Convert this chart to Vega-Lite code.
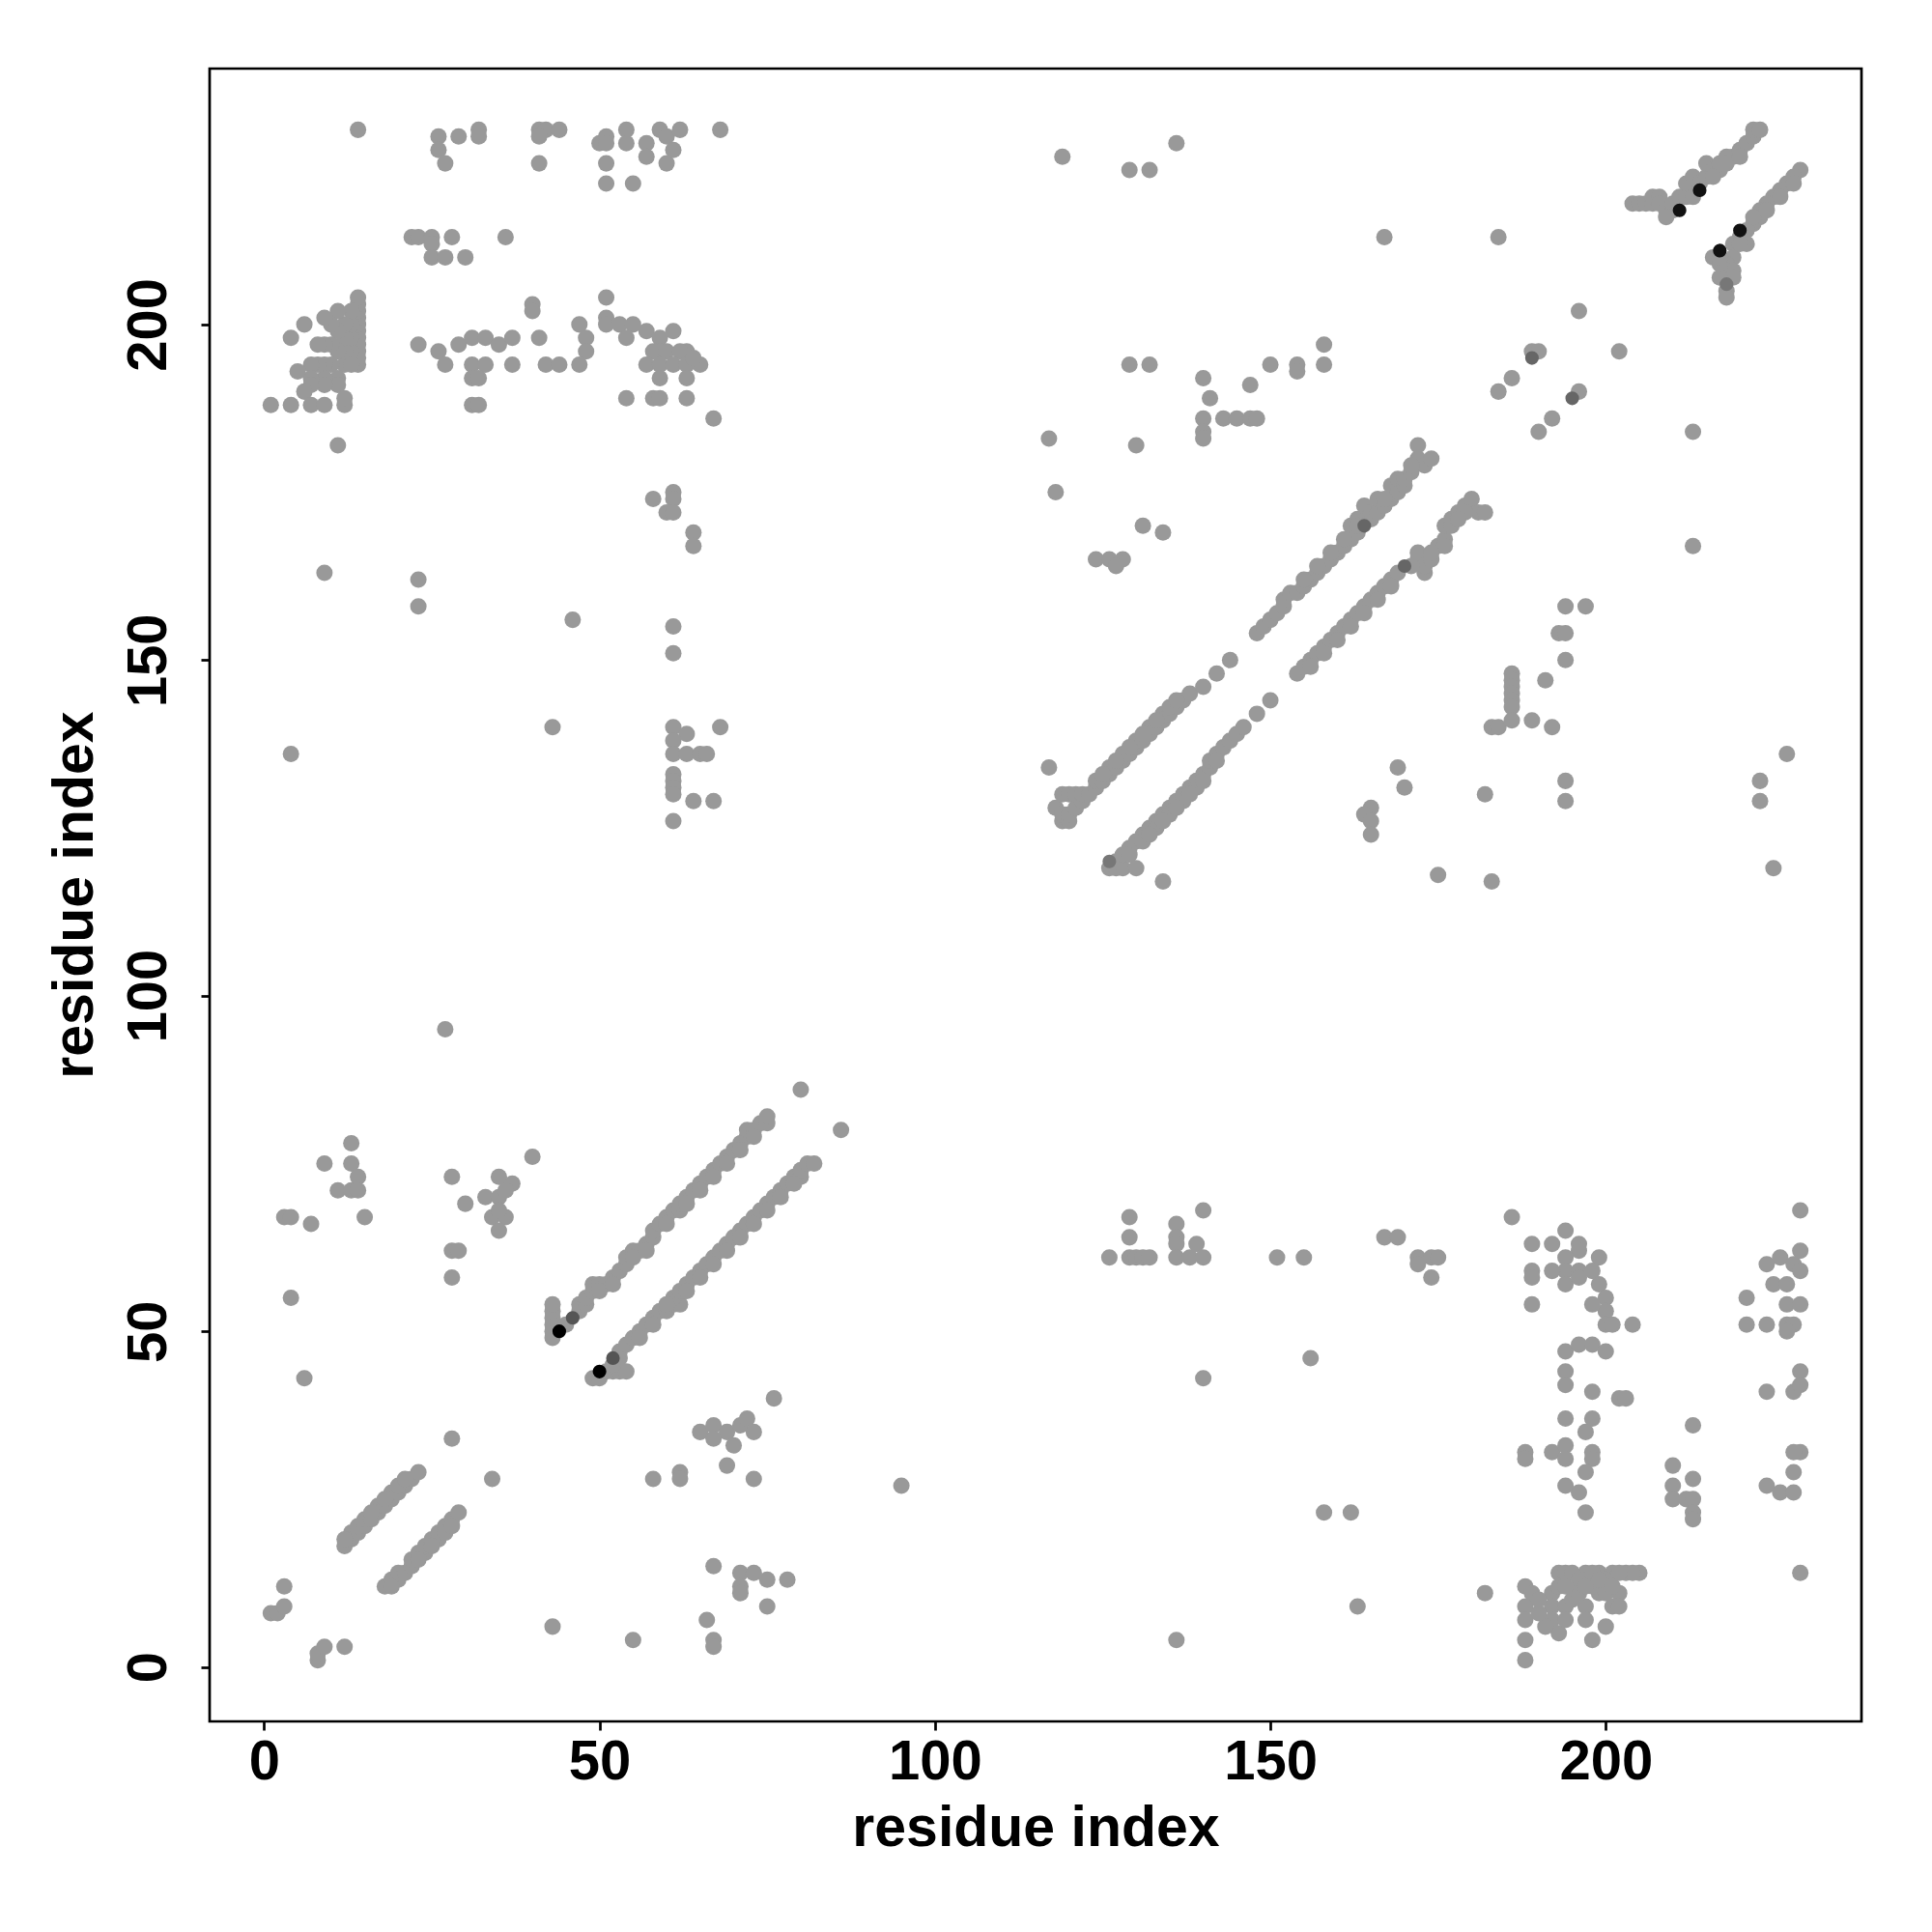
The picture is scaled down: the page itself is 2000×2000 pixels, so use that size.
{
"$schema":"https://vega.github.io/schema/vega-lite/v6.json",
"autosize":{"type":"none"},
"width":1710,"height":1711,
"padding":{"left":217,"top":71,"right":73,"bottom":218},
"background":"white",
"config":{"view":{"stroke":"black","strokeWidth":2.7},
"axis":{"domain":false,"grid":false,"tickColor":"black","tickWidth":2.7,"tickSize":9,"labelFont":"Liberation Sans","labelFontWeight":"bold","labelFontSize":58,"labelColor":"black","titleFont":"Liberation Sans","titleFontWeight":"bold","titleFontSize":59,"titleColor":"black","labelFlush":false,"labelOverlap":false}},
"datasets":{
"dark":[{"x":44,"y":50,"c":"#000000"},{"x":50,"y":44,"c":"#000000"},{"x":46,"y":52,"c":"#555555"},{"x":52,"y":46,"c":"#555555"},{"x":211,"y":217,"c":"#111111"},{"x":214,"y":220,"c":"#111111"},{"x":217,"y":211,"c":"#111111"},{"x":220,"y":214,"c":"#111111"},{"x":189,"y":195,"c":"#666666"},{"x":195,"y":189,"c":"#666666"},{"x":164,"y":170,"c":"#666666"},{"x":170,"y":164,"c":"#666666"},{"x":126,"y":120,"c":"#777777"},{"x":218,"y":206,"c":"#777777"}],
"gray":[
{"x":14,"y":229},{"x":26,"y":228},{"x":26,"y":226},{"x":27,"y":224},{"x":29,"y":228},{"x":32,"y":229},{"x":32,"y":228},{"x":41,"y":229},{"x":42,"y":229},{"x":41,"y":228},{"x":44,"y":229},{"x":41,"y":224},{"x":50,"y":227},{"x":51,"y":228},{"x":51,"y":227},{"x":51,"y":224},{"x":51,"y":221},{"x":55,"y":221},{"x":54,"y":229},{"x":54,"y":227},{"x":57,"y":227},{"x":57,"y":225},{"x":59,"y":229},{"x":60,"y":228},{"x":60,"y":224},{"x":61,"y":226},{"x":62,"y":229},{"x":68,"y":229},
{"x":22,"y":213},{"x":23,"y":213},{"x":25,"y":213},{"x":28,"y":213},{"x":25,"y":212},{"x":25,"y":210},{"x":27,"y":210},{"x":30,"y":210},{"x":36,"y":213},
{"x":14,"y":194},{"x":14,"y":195},{"x":14,"y":196},{"x":14,"y":197},{"x":14,"y":198},{"x":14,"y":199},{"x":14,"y":200},{"x":14,"y":201},{"x":14,"y":202},{"x":14,"y":203},{"x":14,"y":204},{"x":13,"y":196},{"x":13,"y":198},{"x":13,"y":200},{"x":13,"y":202},{"x":12,"y":194},{"x":12,"y":196},{"x":12,"y":198},{"x":12,"y":200},{"x":11,"y":202},{"x":11,"y":199},{"x":11,"y":196},{"x":11,"y":192},{"x":11,"y":191},{"x":10,"y":194},{"x":10,"y":197},{"x":10,"y":200},{"x":9,"y":201},{"x":9,"y":197},{"x":9,"y":194},{"x":9,"y":192},{"x":9,"y":191},{"x":8,"y":197},{"x":8,"y":194},{"x":7,"y":194},{"x":7,"y":192},{"x":7,"y":191},{"x":6,"y":200},{"x":6,"y":190},{"x":5,"y":193},{"x":4,"y":198},{"x":1,"y":188},{"x":4,"y":188},{"x":7,"y":188},{"x":9,"y":188},{"x":12,"y":188},{"x":12,"y":189},{"x":11,"y":182},{"x":13,"y":194},
{"x":23,"y":197},{"x":26,"y":196},{"x":27,"y":194},{"x":29,"y":197},{"x":31,"y":198},{"x":33,"y":198},{"x":35,"y":197},{"x":37,"y":198},{"x":31,"y":194},{"x":33,"y":194},{"x":31,"y":192},{"x":32,"y":192},{"x":31,"y":188},{"x":32,"y":188},{"x":37,"y":194},{"x":40,"y":203},{"x":40,"y":202},{"x":41,"y":198},{"x":42,"y":194},{"x":44,"y":194},{"x":47,"y":200},{"x":48,"y":198},{"x":48,"y":196},{"x":47,"y":194},{"x":51,"y":204},{"x":51,"y":201},{"x":51,"y":200},{"x":53,"y":200},{"x":55,"y":200},{"x":54,"y":198},{"x":57,"y":199},{"x":61,"y":199},{"x":59,"y":198},{"x":59,"y":196},{"x":58,"y":196},{"x":60,"y":196},{"x":63,"y":196},{"x":62,"y":196},{"x":57,"y":194},{"x":59,"y":194},{"x":61,"y":194},{"x":63,"y":194},{"x":65,"y":194},{"x":59,"y":192},{"x":63,"y":192},{"x":54,"y":189},{"x":58,"y":189},{"x":59,"y":189},{"x":63,"y":189},{"x":67,"y":186},{"x":64,"y":195},
{"x":58,"y":174},{"x":61,"y":175},{"x":61,"y":174},{"x":60,"y":172},{"x":61,"y":172},{"x":64,"y":169},{"x":64,"y":167},{"x":9,"y":163},
{"x":23,"y":162},{"x":23,"y":158},{"x":46,"y":156},{"x":61,"y":155},{"x":61,"y":151},{"x":4,"y":136},{"x":43,"y":140},{"x":61,"y":140},{"x":63,"y":139},{"x":61,"y":138},{"x":61,"y":136},{"x":63,"y":136},{"x":65,"y":136},{"x":66,"y":136},{"x":68,"y":140},{"x":61,"y":133},{"x":61,"y":132},{"x":61,"y":131},{"x":61,"y":130},{"x":64,"y":129},{"x":67,"y":129},{"x":61,"y":126},
{"x":13,"y":78},{"x":9,"y":75},{"x":13,"y":75},{"x":14,"y":73},{"x":11,"y":71},{"x":13,"y":71},{"x":14,"y":71},{"x":3,"y":67},{"x":4,"y":67},{"x":7,"y":66},{"x":15,"y":67},{"x":4,"y":55},{"x":6,"y":43},{"x":28,"y":73},{"x":30,"y":69},{"x":35,"y":73},{"x":37,"y":72},{"x":33,"y":70},{"x":35,"y":70},{"x":36,"y":71},{"x":34,"y":67},{"x":36,"y":67},{"x":35,"y":65},{"x":35,"y":68},{"x":40,"y":76},{"x":28,"y":62},{"x":29,"y":62},{"x":28,"y":58},{"x":28,"y":34},{"x":27,"y":95},
{"x":1,"y":8},{"x":2,"y":8},{"x":3,"y":9},{"x":3,"y":12},
{"x":12,"y":18},{"x":13,"y":19},{"x":13,"y":20},{"x":14,"y":20},{"x":14,"y":21},{"x":15,"y":21},{"x":15,"y":22},{"x":16,"y":22},{"x":17,"y":23},{"x":17,"y":24},{"x":18,"y":24},{"x":19,"y":25},{"x":19,"y":26},{"x":20,"y":26},{"x":21,"y":27},{"x":22,"y":28},{"x":23,"y":29},{"x":12,"y":19},{"x":16,"y":23},{"x":18,"y":25},{"x":20,"y":27},{"x":21,"y":28},
{"x":43,"y":49},{"x":43,"y":50},{"x":43,"y":51},{"x":43,"y":52},{"x":43,"y":53},{"x":43,"y":54},{"x":45,"y":51},{"x":47,"y":53},{"x":47,"y":54},{"x":48,"y":54},{"x":48,"y":55},{"x":49,"y":56},{"x":49,"y":57},{"x":50,"y":57},{"x":51,"y":57},{"x":52,"y":58},{"x":53,"y":59},{"x":54,"y":60},{"x":54,"y":61},{"x":55,"y":62},{"x":56,"y":62},{"x":57,"y":63},{"x":58,"y":64},{"x":58,"y":65},{"x":59,"y":66},{"x":60,"y":67},{"x":61,"y":68},{"x":62,"y":68},{"x":62,"y":69},{"x":63,"y":70},{"x":64,"y":71},{"x":65,"y":72},{"x":66,"y":73},{"x":67,"y":74},{"x":68,"y":75},{"x":69,"y":76},{"x":70,"y":77},{"x":71,"y":78},{"x":72,"y":79},{"x":72,"y":80},{"x":73,"y":80},{"x":74,"y":81},{"x":75,"y":81},{"x":75,"y":82},{"x":80,"y":86},{"x":50,"y":56},{"x":52,"y":57},{"x":55,"y":61},{"x":57,"y":62},{"x":60,"y":66},{"x":63,"y":69},{"x":65,"y":71},{"x":67,"y":73},{"x":69,"y":75},{"x":71,"y":77},{"x":73,"y":79},
{"x":118,"y":128},{"x":119,"y":126},{"x":119,"y":127},{"x":119,"y":130},{"x":120,"y":126},{"x":120,"y":127},{"x":120,"y":130},{"x":121,"y":128},{"x":121,"y":130},{"x":122,"y":129},{"x":122,"y":130},{"x":123,"y":130},{"x":124,"y":131},{"x":124,"y":132},{"x":125,"y":132},{"x":126,"y":133},{"x":126,"y":134},{"x":127,"y":134},{"x":128,"y":135},{"x":128,"y":136},{"x":129,"y":136},{"x":130,"y":137},{"x":130,"y":138},{"x":131,"y":138},{"x":132,"y":139},{"x":132,"y":140},{"x":133,"y":140},{"x":134,"y":141},{"x":134,"y":142},{"x":135,"y":142},{"x":136,"y":143},{"x":137,"y":144},{"x":138,"y":145},{"x":140,"y":146},{"x":142,"y":148},{"x":144,"y":150},{"x":148,"y":154},{"x":149,"y":155},{"x":150,"y":156},{"x":151,"y":157},{"x":152,"y":158},{"x":152,"y":159},{"x":153,"y":160},{"x":154,"y":160},{"x":155,"y":161},{"x":156,"y":162},{"x":157,"y":163},{"x":158,"y":164},{"x":159,"y":165},{"x":160,"y":166},{"x":161,"y":167},{"x":162,"y":168},{"x":162,"y":170},{"x":163,"y":169},{"x":163,"y":171},{"x":164,"y":173},{"x":165,"y":171},{"x":165,"y":172},{"x":166,"y":172},{"x":166,"y":174},{"x":167,"y":173},{"x":168,"y":174},{"x":168,"y":176},{"x":169,"y":175},{"x":169,"y":177},{"x":170,"y":176},{"x":170,"y":177},{"x":171,"y":178},{"x":172,"y":180},{"x":172,"y":182},{"x":173,"y":179},{"x":174,"y":180},
{"x":125,"y":133},{"x":127,"y":135},{"x":129,"y":137},{"x":131,"y":139},{"x":133,"y":141},{"x":135,"y":143},{"x":136,"y":144},{"x":155,"y":162},{"x":157,"y":164},{"x":159,"y":166},{"x":161,"y":168},{"x":163,"y":170},{"x":167,"y":174},{"x":171,"y":179},
{"x":119,"y":225},{"x":129,"y":223},{"x":132,"y":223},{"x":136,"y":227},{"x":167,"y":213},{"x":184,"y":213},{"x":129,"y":194},{"x":132,"y":194},{"x":140,"y":192},{"x":141,"y":189},{"x":140,"y":186},{"x":143,"y":186},{"x":145,"y":186},{"x":147,"y":186},{"x":148,"y":186},{"x":140,"y":184},{"x":140,"y":183},{"x":147,"y":191},{"x":150,"y":194},{"x":154,"y":194},{"x":154,"y":193},{"x":158,"y":197},{"x":158,"y":194},{"x":117,"y":183},{"x":130,"y":182},{"x":118,"y":175},{"x":131,"y":170},{"x":134,"y":169},{"x":124,"y":165},{"x":126,"y":165},{"x":128,"y":165},{"x":127,"y":164},{"x":117,"y":134},
{"x":196,"y":202},{"x":189,"y":196},{"x":190,"y":196},{"x":186,"y":192},{"x":184,"y":190},
{"x":204,"y":218},{"x":205,"y":218},{"x":206,"y":218},{"x":207,"y":218},{"x":207,"y":219},{"x":208,"y":219},{"x":208,"y":218},{"x":209,"y":217},{"x":210,"y":217},{"x":210,"y":218},{"x":211,"y":219},{"x":212,"y":219},{"x":212,"y":221},{"x":213,"y":220},{"x":213,"y":222},{"x":214,"y":221},{"x":215,"y":222},{"x":215,"y":224},{"x":216,"y":223},{"x":217,"y":223},{"x":217,"y":224},{"x":218,"y":225},{"x":219,"y":225},{"x":220,"y":226},{"x":221,"y":227},{"x":222,"y":228},{"x":222,"y":229},{"x":223,"y":229},{"x":216,"y":222},{"x":218,"y":224},{"x":220,"y":225},{"x":209,"y":216},{"x":213,"y":219},
{"x":8,"y":1},{"x":8,"y":2},{"x":9,"y":3},{"x":12,"y":3},
{"x":18,"y":12},{"x":19,"y":13},{"x":20,"y":13},{"x":20,"y":14},{"x":21,"y":14},{"x":22,"y":15},{"x":22,"y":16},{"x":23,"y":17},{"x":24,"y":17},{"x":24,"y":18},{"x":25,"y":19},{"x":26,"y":19},{"x":26,"y":20},{"x":27,"y":21},{"x":28,"y":22},{"x":29,"y":23},{"x":19,"y":12},{"x":23,"y":16},{"x":25,"y":18},{"x":27,"y":20},{"x":28,"y":21},
{"x":34,"y":28},
{"x":49,"y":43},{"x":50,"y":43},{"x":51,"y":44},{"x":52,"y":44},{"x":53,"y":44},{"x":54,"y":44},{"x":52,"y":45},{"x":53,"y":46},{"x":53,"y":47},{"x":54,"y":48},{"x":55,"y":49},{"x":56,"y":50},{"x":57,"y":51},{"x":58,"y":52},{"x":59,"y":53},{"x":60,"y":53},{"x":61,"y":54},{"x":62,"y":54},{"x":61,"y":55},{"x":62,"y":56},{"x":63,"y":57},{"x":64,"y":58},{"x":65,"y":59},{"x":66,"y":60},{"x":67,"y":61},{"x":68,"y":62},{"x":69,"y":63},{"x":70,"y":64},{"x":71,"y":65},{"x":72,"y":66},{"x":73,"y":67},{"x":74,"y":68},{"x":75,"y":69},{"x":76,"y":70},{"x":77,"y":71},{"x":78,"y":72},{"x":79,"y":73},{"x":80,"y":73},{"x":80,"y":74},{"x":81,"y":75},{"x":82,"y":75},{"x":86,"y":80},{"x":56,"y":49},{"x":58,"y":51},{"x":60,"y":54},{"x":63,"y":56},{"x":65,"y":58},{"x":67,"y":60},{"x":69,"y":62},{"x":71,"y":64},{"x":73,"y":66},{"x":75,"y":68},{"x":77,"y":70},{"x":79,"y":72},
{"x":43,"y":6},{"x":55,"y":4},{"x":67,"y":15},{"x":71,"y":14},{"x":73,"y":14},{"x":75,"y":13},{"x":78,"y":13},{"x":71,"y":12},{"x":71,"y":11},{"x":75,"y":9},{"x":66,"y":7},{"x":67,"y":4},{"x":67,"y":3},{"x":58,"y":28},{"x":62,"y":29},{"x":62,"y":28},{"x":69,"y":30},{"x":73,"y":28},{"x":65,"y":35},{"x":67,"y":36},{"x":69,"y":35},{"x":71,"y":36},{"x":72,"y":37},{"x":73,"y":35},{"x":70,"y":33},{"x":67,"y":34},{"x":76,"y":40},{"x":95,"y":27},
{"x":129,"y":67},{"x":129,"y":64},{"x":126,"y":61},{"x":129,"y":61},{"x":130,"y":61},{"x":131,"y":61},{"x":132,"y":61},{"x":136,"y":66},{"x":140,"y":68},{"x":136,"y":64},{"x":136,"y":63},{"x":139,"y":63},{"x":136,"y":61},{"x":138,"y":61},{"x":140,"y":61},{"x":151,"y":61},{"x":155,"y":61},{"x":167,"y":64},{"x":169,"y":64},{"x":172,"y":61},{"x":174,"y":61},{"x":175,"y":61},{"x":172,"y":60},{"x":174,"y":58},{"x":140,"y":43},{"x":156,"y":46},{"x":158,"y":23},{"x":162,"y":23},{"x":163,"y":9},{"x":136,"y":4},
{"x":229,"y":68},{"x":229,"y":62},{"x":224,"y":60},{"x":226,"y":61},{"x":228,"y":60},{"x":229,"y":59},{"x":225,"y":57},{"x":227,"y":57},{"x":221,"y":55},{"x":227,"y":54},{"x":229,"y":54},{"x":221,"y":51},{"x":224,"y":51},{"x":227,"y":51},{"x":228,"y":51},{"x":227,"y":50},{"x":229,"y":44},{"x":224,"y":41},{"x":228,"y":41},{"x":229,"y":42},{"x":229,"y":32},{"x":228,"y":32},{"x":228,"y":29},{"x":224,"y":27},{"x":226,"y":26},{"x":228,"y":26},{"x":229,"y":14},
{"x":213,"y":36},{"x":210,"y":30},{"x":210,"y":27},{"x":213,"y":28},{"x":210,"y":25},{"x":212,"y":25},{"x":213,"y":25},{"x":213,"y":23},{"x":213,"y":22},
{"x":186,"y":67},{"x":189,"y":63},{"x":192,"y":63},{"x":194,"y":65},{"x":196,"y":63},{"x":196,"y":62},{"x":194,"y":61},{"x":194,"y":59},{"x":196,"y":59},{"x":194,"y":57},{"x":196,"y":58},{"x":192,"y":59},{"x":189,"y":59},{"x":189,"y":58},{"x":199,"y":61},{"x":198,"y":59},{"x":199,"y":57},{"x":200,"y":55},{"x":200,"y":53},{"x":198,"y":54},{"x":189,"y":54},{"x":200,"y":51},{"x":201,"y":51},{"x":204,"y":51},{"x":194,"y":47},{"x":196,"y":48},{"x":198,"y":48},{"x":200,"y":47},{"x":194,"y":44},{"x":194,"y":42},{"x":198,"y":41},{"x":202,"y":40},{"x":203,"y":40},{"x":194,"y":37},{"x":198,"y":37},{"x":197,"y":35},{"x":188,"y":32},{"x":188,"y":31},{"x":192,"y":32},{"x":194,"y":33},{"x":194,"y":31},{"x":198,"y":32},{"x":198,"y":31},{"x":197,"y":29},{"x":194,"y":27},{"x":196,"y":26},{"x":197,"y":23},
{"x":182,"y":11},{"x":188,"y":12},{"x":189,"y":11},{"x":188,"y":9},{"x":188,"y":7},{"x":188,"y":4},{"x":188,"y":1},{"x":193,"y":14},{"x":194,"y":14},{"x":192,"y":11},{"x":192,"y":9},{"x":192,"y":7},{"x":193,"y":5},{"x":194,"y":9},{"x":194,"y":7},{"x":191,"y":6},{"x":197,"y":14},{"x":199,"y":14},{"x":201,"y":14},{"x":203,"y":14},{"x":205,"y":14},{"x":196,"y":12},{"x":199,"y":11},{"x":202,"y":11},{"x":197,"y":9},{"x":201,"y":9},{"x":202,"y":9},{"x":197,"y":7},{"x":200,"y":6},{"x":198,"y":4},{"x":195,"y":14},{"x":196,"y":13},{"x":198,"y":12},{"x":200,"y":13},{"x":195,"y":10},{"x":193,"y":12},{"x":190,"y":8},{"x":190,"y":10},{"x":196,"y":11},{"x":200,"y":11},{"x":204,"y":14},{"x":202,"y":14},{"x":198,"y":14},{"x":194,"y":12},{"x":197,"y":12},{"x":199,"y":13},{"x":201,"y":12},
{"x":169,"y":134},{"x":170,"y":131},{"x":165,"y":128},{"x":164,"y":127},{"x":165,"y":126},{"x":165,"y":124},{"x":175,"y":118},{"x":183,"y":117},{"x":213,"y":167},{"x":194,"y":158},{"x":197,"y":158},{"x":193,"y":154},{"x":194,"y":154},{"x":194,"y":150},{"x":186,"y":148},{"x":186,"y":147},{"x":186,"y":146},{"x":186,"y":145},{"x":186,"y":144},{"x":186,"y":143},{"x":183,"y":140},{"x":184,"y":140},{"x":186,"y":141},{"x":189,"y":141},{"x":191,"y":147},{"x":192,"y":140},{"x":182,"y":130},{"x":194,"y":132},{"x":194,"y":129},{"x":223,"y":132},{"x":223,"y":129},{"x":227,"y":136},{"x":225,"y":119},{"x":134,"y":117},
{"x":126,"y":119},{"x":127,"y":119},{"x":128,"y":119},{"x":130,"y":119},{"x":127,"y":120},{"x":128,"y":121},{"x":129,"y":122},{"x":129,"y":121},{"x":130,"y":123},{"x":131,"y":124},{"x":131,"y":123},{"x":132,"y":125},{"x":133,"y":126},{"x":133,"y":125},{"x":134,"y":127},{"x":135,"y":128},{"x":135,"y":127},{"x":136,"y":129},{"x":137,"y":130},{"x":137,"y":129},{"x":138,"y":131},{"x":139,"y":132},{"x":139,"y":131},{"x":140,"y":133},{"x":141,"y":134},{"x":141,"y":135},{"x":142,"y":136},{"x":143,"y":137},{"x":144,"y":138},{"x":145,"y":139},{"x":146,"y":140},{"x":148,"y":142},{"x":150,"y":144},{"x":154,"y":148},{"x":155,"y":149},{"x":156,"y":150},{"x":157,"y":151},{"x":158,"y":152},{"x":159,"y":153},{"x":160,"y":154},{"x":161,"y":155},{"x":162,"y":156},{"x":163,"y":157},{"x":164,"y":158},{"x":165,"y":159},{"x":166,"y":160},{"x":167,"y":161},{"x":168,"y":162},{"x":169,"y":163},{"x":172,"y":165},{"x":172,"y":166},{"x":173,"y":163},{"x":173,"y":164},{"x":174,"y":165},{"x":175,"y":167},{"x":176,"y":168},{"x":176,"y":170},{"x":177,"y":171},{"x":178,"y":172},{"x":179,"y":173},{"x":180,"y":174},{"x":181,"y":172},{"x":182,"y":172},{"x":176,"y":167},
{"x":132,"y":124},{"x":134,"y":126},{"x":136,"y":128},{"x":138,"y":130},{"x":140,"y":132},{"x":142,"y":135},{"x":156,"y":149},{"x":158,"y":151},{"x":160,"y":153},{"x":162,"y":155},{"x":164,"y":157},{"x":166,"y":159},{"x":168,"y":161},{"x":171,"y":164},{"x":174,"y":166},{"x":177,"y":170},{"x":179,"y":172},{"x":178,"y":171},
{"x":196,"y":190},{"x":192,"y":186},{"x":190,"y":184},{"x":202,"y":196},{"x":213,"y":184},
{"x":229,"y":223},{"x":228,"y":222},{"x":227,"y":221},{"x":226,"y":220},{"x":225,"y":219},{"x":224,"y":218},{"x":223,"y":217},{"x":223,"y":216},{"x":222,"y":215},{"x":221,"y":214},{"x":221,"y":212},{"x":220,"y":213},{"x":219,"y":212},{"x":219,"y":210},{"x":216,"y":210},{"x":218,"y":209},{"x":219,"y":208},{"x":219,"y":207},{"x":218,"y":205},{"x":218,"y":204},{"x":217,"y":207},{"x":217,"y":209},{"x":222,"y":216},{"x":224,"y":217},{"x":226,"y":219},{"x":228,"y":221},{"x":220,"y":212},{"x":217,"y":210}
]},
"encoding":{
"x":{"field":"x","type":"quantitative","scale":{"domain":[-8.12,238.12],"nice":false,"zero":false},
"axis":{"values":[0,50,100,150,200],"title":"residue index","labelBaseline":"alphabetic","labelPadding":50,"titleY":128,"titleBaseline":"alphabetic"}},
"y":{"field":"y","type":"quantitative","scale":{"domain":[-8.12,238.12],"nice":false,"zero":false},
"axis":{"values":[0,50,100,150,200],"title":"residue index","labelAngle":270,"labelAlign":"center","labelBaseline":"alphabetic","labelPadding":37,"titleX":-122,"titleY":855,"titleAngle":270,"titleAlign":"center","titleBaseline":"alphabetic"}}
},
"layer":[
{"data":{"name":"gray"},"mark":{"type":"circle","size":290,"opacity":1,"color":"#999999"}},
{"data":{"name":"dark"},"mark":{"type":"circle","size":200,"opacity":1},"encoding":{"color":{"field":"c","type":"nominal","scale":null,"legend":null}}}
]
}
